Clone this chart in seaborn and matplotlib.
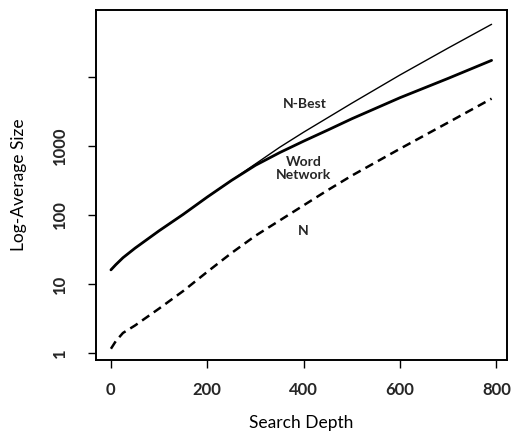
import matplotlib
matplotlib.use("Agg")
import matplotlib.pyplot as plt
import seaborn as sns
import pandas as pd
import numpy as np

# Data
depth = [0, 10, 25, 50, 100, 150, 200, 250, 300, 350, 400, 450, 500, 600, 700, 790]
n_best = [16, 19, 24, 33, 59, 102, 182, 316, 550, 955, 1585, 2570, 4170, 10700, 26300, 58000]
word_network = [16, 19, 24, 33, 59, 102, 182, 316, 525, 800, 1175, 1700, 2480, 5010, 9550, 17400]
n_plain = [1.15, 1.48, 1.95, 2.5, 4.4, 7.9, 15, 28, 50, 83, 138, 229, 372, 912, 2190, 4850]

x_ticks = [0, 200, 400, 600, 800]
y_ticks = [1, 10, 100, 1000, 10000]
y_tick_labels = ["1", "10", "100", "1000", ""]

sns.set_theme(style="ticks")
plt.rcParams['font.family'] = ['Lato', 'DejaVu Sans']

df = pd.DataFrame({
    "depth": depth * 3,
    "size": n_best + word_network + n_plain,
    "series": ["N-Best"] * len(depth) + ["Word Network"] * len(depth) + ["N"] * len(depth),
})

fig = plt.figure(figsize=(5.17, 4.43), dpi=100)
ax = fig.add_axes([96 / 517, 1 - 360 / 443, (507 - 96) / 517, (360 - 10) / 443])

sns.lineplot(data=df[df.series == "N-Best"], x="depth", y="size", ax=ax,
             color="black", linewidth=1.0, legend=False)
sns.lineplot(data=df[df.series == "Word Network"], x="depth", y="size", ax=ax,
             color="black", linewidth=2.0, legend=False)
sns.lineplot(data=df[df.series == "N"], x="depth", y="size", ax=ax,
             color="black", linewidth=1.8, legend=False)
ax.lines[-1].set_dashes([3.5, 2.2])

ax.set_yscale("log")
ax.set_xlim(-31, 822)
ax.set_ylim(0.79, 93500)
ax.set_xticks(x_ticks)
ax.set_xticklabels([str(t) for t in x_ticks])
ax.set_yticks(y_ticks)
ax.set_yticklabels(y_tick_labels)
ax.yaxis.set_minor_locator(matplotlib.ticker.NullLocator())

for lab in ax.get_yticklabels():
    lab.set_rotation(90)
    lab.set_va("center")
for lab in ax.get_xticklabels() + ax.get_yticklabels():
    lab.set_fontweight("bold")
    lab.set_fontsize(12)

ax.tick_params(axis="both", direction="out", length=6, width=1.0, color="black")
ax.tick_params(axis="x", pad=10)
ax.tick_params(axis="y", pad=14)

for sp in ax.spines.values():
    sp.set_linewidth(1.4)
    sp.set_color("black")

ax.set_xlabel("Search Depth", fontsize=12.5, labelpad=12, color="black")
ax.set_ylabel("Log-Average Size", fontsize=12.5, labelpad=18, color="black")

ax.text(402, 4050, "N-Best", ha="center", va="center", fontsize=10, fontweight="bold")
ax.text(400, 470, "Word\nNetwork", ha="center", va="center", fontsize=10,
        fontweight="bold", linespacing=1.1)
ax.text(400, 58, "N", ha="center", va="center", fontsize=10, fontweight="bold")

fig.savefig("out.png", dpi=100)
